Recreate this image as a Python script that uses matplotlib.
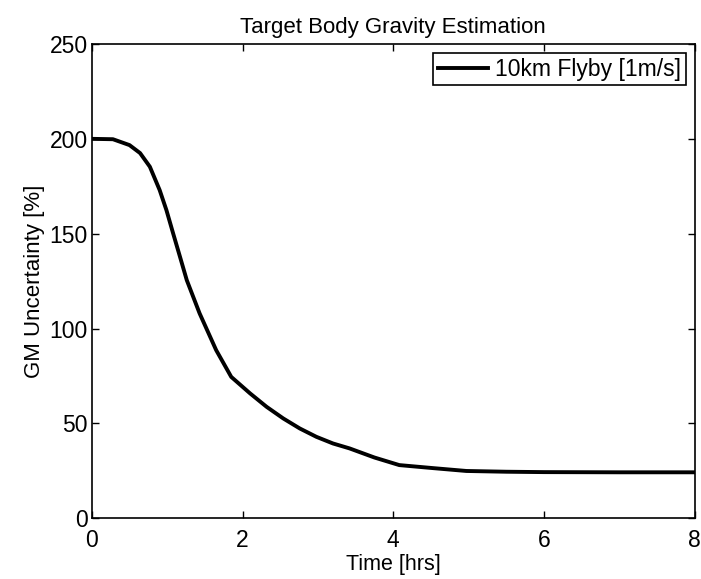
import matplotlib.pyplot as plt

plt.rcParams['font.family'] = ['Liberation Sans', 'DejaVu Sans']

# GM uncertainty vs time
time_hrs = [0, 0.28, 0.5, 0.64, 0.77, 0.9, 0.99, 1.08, 1.17, 1.26, 1.43,
            1.65, 1.85, 2.1, 2.32, 2.54, 2.76, 2.98, 3.2, 3.42, 3.75, 4.08,
            4.53, 4.97, 5.5, 6.0, 7.0, 8.0]
gm_unc = [200, 199.8, 196.7, 192.5, 185.3, 173, 162.4, 150, 137.8, 125.5, 108,
          88.6, 74.5, 65.8, 58.7, 52.6, 47.3, 42.9, 39.4, 36.8, 32, 28,
          26.4, 24.9, 24.5, 24.3, 24.2, 24.2]
series_label = '10km Flyby [1m/s]'
x_ticks = [0, 2, 4, 6, 8]
y_ticks = [0, 50, 100, 150, 200, 250]

fig = plt.figure(figsize=(7.01, 5.79), dpi=100)
ax = fig.add_axes([0.131, 0.105, 0.86, 0.819])
ax.plot(time_hrs, gm_unc, color='black', linewidth=2.8, label=series_label,
        solid_joinstyle='round')

ax.set_xlim(0, 8)
ax.set_ylim(0, 250)
ax.set_xticks(x_ticks)
ax.set_yticks(y_ticks)
ax.tick_params(direction='in', top=True, right=True, length=5, width=1,
               labelsize=16.5)
ax.tick_params(axis='x', pad=8)
ax.tick_params(axis='y', pad=3)
for sp in ax.spines.values():
    sp.set_linewidth(1.2)

ax.set_xlabel('Time [hrs]', fontsize=15.5, labelpad=1)
ax.set_ylabel('GM Uncertainty [%]', fontsize=16, labelpad=3)
ax.set_title('Target Body Gravity Estimation', fontsize=16, pad=8)

leg = ax.legend(loc='upper right', fontsize=16.5, frameon=True, fancybox=False,
                edgecolor='black', framealpha=1, handlelength=2.2,
                handletextpad=0.3, borderpad=0.2, borderaxespad=0.4)
leg.get_frame().set_linewidth(1.2)

fig.savefig('out.png', dpi=100)
